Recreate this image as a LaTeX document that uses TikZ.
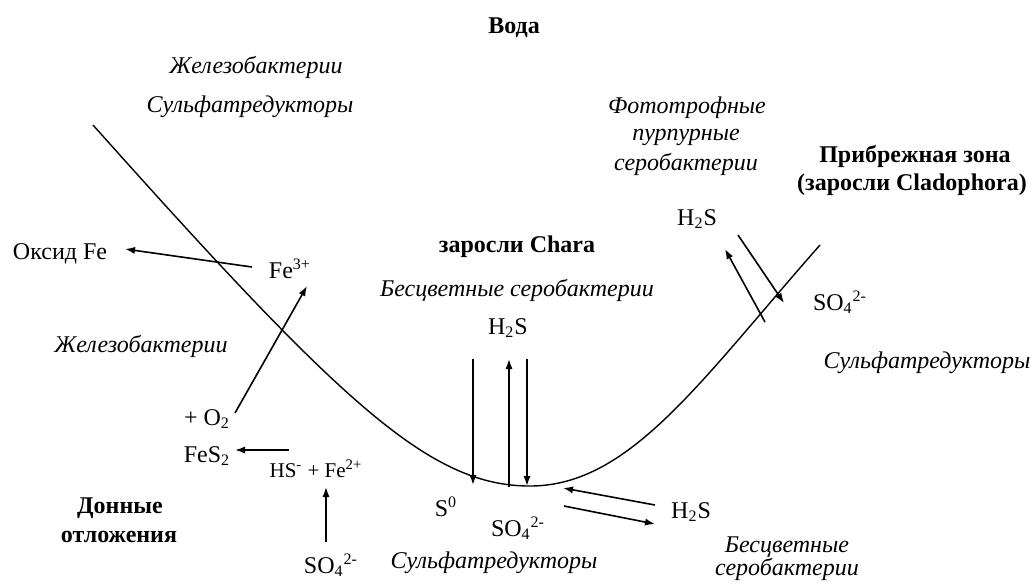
\documentclass[tikz,border=0pt]{standalone}
\usepackage{fontspec}
\setmainfont{Liberation Serif}
\usetikzlibrary{arrows.meta}

\tikzset{
  lbl/.style={anchor=base, inner sep=0pt, font=\fontsize{12}{14.5}\selectfont},
  ilbl/.style={lbl, font=\fontsize{12}{14.5}\selectfont\itshape},
  blbl/.style={lbl, font=\fontsize{12}{14.5}\selectfont\bfseries},
  flux/.style={-{Latex[length=5pt,width=3.6pt]}, line width=0.8pt},
  rive/.style={line width=0.7pt},
}

\begin{document}
\begin{tikzpicture}[x=0.5pt, y=-0.5pt]
        % Cadre : memes proportions que le schema d'origine
        \useasboundingbox (0,0) rectangle (1033,586);

        % Profil du fond (rive gauche -> fond -> rive droite)
        \coordinate (riveG) at (93,125);
        \coordinate (fond) at (530,486);
        \coordinate (riveD) at (820,245);
        \draw[rive] (riveG) .. controls (343,405) and (430,486) .. (fond)
                            .. controls (630,486) and (700,381) .. (riveD);

        % Textes du haut
        \node[blbl] (voda) at (514,33) {Вода};
        \node[ilbl] (zhelezo1) at (256,73) {Железобактерии};
        \node[ilbl] (sulfat1) at (250,112) {Сульфатредукторы};
        \node[ilbl] (foto1) at (687,113) {Фототрофные};
        \node[ilbl] (foto2) at (686,140) {пурпурные};
        \node[ilbl] (foto3) at (686,170) {серобактерии};
        \node[blbl] (zona1) at (915,162) {Прибрежная зона};
        \node[blbl] (zona2) at (912,190) {(заросли Cladophora)};

        % Zone cotiere a droite
        \node[lbl] (hsR) at (697,225) {H\textsubscript{2}S};
        \node[lbl] (soR) at (840,310) {SO\textsubscript{4}\textsuperscript{2-}};
        \node[ilbl] (sulfatR) at (927,368) {Сульфатредукторы};

        % Zone centrale (Chara)
        \node[blbl] (chara) at (517,252) {заросли Chara};
        \node[ilbl] (bescvM) at (517,296) {Бесцветные серобактерии};
        \node[lbl] (hsM) at (508,334) {H\textsubscript{2}S};

        % Cycle du fer a gauche
        \node[lbl] (oksid) at (60,259) {Оксид Fe};
        \node[lbl] (fe3) at (290,278) {Fe\textsuperscript{3+}};
        \node[ilbl] (zhelezo2) at (141,352) {Железобактерии};
        \node[lbl] (o2) at (207,425) {+ O\textsubscript{2}};
        \node[lbl] (fes2) at (207,462) {FeS\textsubscript{2}};
        \node[lbl, font=\fontsize{10.5}{12}\selectfont] (hsfe) at (316,477) {HS\textsuperscript{-} + Fe\textsuperscript{2+}};
        \node[lbl] (soL) at (331,573) {SO\textsubscript{4}\textsuperscript{2-}};
        \node[blbl] (donn1) at (120,513) {Донные};
        \node[blbl] (donn2) at (119,542) {отложения};

        % Sediments sous le fond
        \node[lbl] (s0) at (446,516) {S\textsuperscript{0}};
        \node[lbl] (soM) at (518,536) {SO\textsubscript{4}\textsuperscript{2-}};
        \node[ilbl] (sulfatM) at (494,568) {Сульфатредукторы};
        \node[lbl] (hsB) at (691,518) {H\textsubscript{2}S};
        \node[ilbl] (bescv1) at (787,552) {Бесцветные};
        \node[ilbl] (bescv2) at (787,575) {серобактерии};

        % Extremites des fleches
        \coordinate (fe3out) at (252,267);
        \coordinate (oksidin) at (125,249);
        \coordinate (o2out) at (235,413);
        \coordinate (fe3in) at (307,286);
        \coordinate (hsfeout) at (289,450);
        \coordinate (fes2in) at (235,450);
        \coordinate (soLout) at (326,542);
        \coordinate (hsfein) at (326,487);
        \coordinate (c1a) at (473,359);
        \coordinate (c1b) at (473,485);
        \coordinate (c2a) at (509,487);
        \coordinate (c2b) at (509,359);
        \coordinate (c3a) at (527,359);
        \coordinate (c3b) at (527,486);
        \coordinate (b1a) at (655,505);
        \coordinate (b1b) at (563,488);
        \coordinate (b2a) at (564,506);
        \coordinate (b2b) at (655,524);
        \coordinate (r1a) at (765,322);
        \coordinate (r1b) at (725,249);
        \coordinate (r2a) at (738,235);
        \coordinate (r2b) at (784,303);

        % Fleches
        \draw[flux] (fe3out) -- (oksidin);
        \draw[flux] (o2out) -- (fe3in);
        \draw[flux] (hsfeout) -- (fes2in);
        \draw[flux] (soLout) -- (hsfein);
        \draw[flux] (c1a) -- (c1b);
        \draw[flux] (c2a) -- (c2b);
        \draw[flux] (c3a) -- (c3b);
        \draw[flux] (b1a) -- (b1b);
        \draw[flux] (b2a) -- (b2b);
        \draw[flux] (r1a) -- (r1b);
        \draw[flux] (r2a) -- (r2b);
\end{tikzpicture}
\end{document}
